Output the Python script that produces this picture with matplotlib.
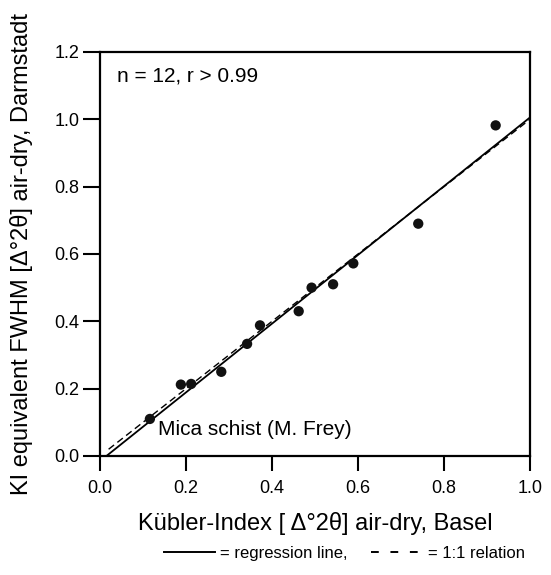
import matplotlib.pyplot as plt
from matplotlib.lines import Line2D

plt.rcParams['font.family'] = ['Liberation Sans', 'DejaVu Sans']

# Kuebler index, Basel vs Darmstadt (air-dry)
ki_basel = [0.116, 0.188, 0.212, 0.282, 0.342, 0.372, 0.462, 0.492, 0.542, 0.589, 0.740, 0.920]
ki_darmstadt = [0.110, 0.212, 0.214, 0.250, 0.333, 0.388, 0.430, 0.500, 0.510, 0.572, 0.690, 0.982]

# regression line
reg_x = [0.015, 1.0]
reg_intercept = -0.0153
reg_slope = 1.021
reg_y = [reg_intercept + reg_slope * v for v in reg_x]

one_x = [0.02, 1.0]
one_y = [0.02, 1.0]

fig = plt.figure(figsize=(5.51, 5.75), dpi=100)
ax = fig.add_axes([0.1815, 0.207, 0.7805, 0.7026])

ax.plot(reg_x, reg_y, color="black", lw=1.3, solid_capstyle="butt")
ax.plot(one_x, one_y, color="black", lw=1.0, dashes=(5, 3))
ax.scatter(ki_basel, ki_darmstadt, s=55, color="#111111", zorder=3, edgecolors="none")

ax.set_xlim(0, 1.0)
ax.set_ylim(0, 1.2)
ax.set_xticks([0.0, 0.2, 0.4, 0.6, 0.8, 1.0])
ax.set_yticks([0.0, 0.2, 0.4, 0.6, 0.8, 1.0, 1.2])
ax.set_xticklabels(["0.0", "0.2", "0.4", "0.6", "0.8", "1.0"])
ax.set_yticklabels(["0.0", "0.2", "0.4", "0.6", "0.8", "1.0", "1.2"])
ax.tick_params(axis="y", direction="out", length=12, width=1.5, labelsize=13, pad=3)
ax.tick_params(axis="x", direction="out", length=11, width=1.5, labelsize=13, pad=6)
for s in ax.spines.values():
    s.set_linewidth(1.6)

ax.set_xlabel("Kübler-Index [ Δ°2θ] air-dry, Basel", fontsize=17, labelpad=11)
ax.set_ylabel("KI equivalent FWHM [Δ°2θ] air-dry, Darmstadt", fontsize=17)
ax.yaxis.set_label_coords(-0.155, 0.5)

ax.text(0.04, 1.13, "n = 12, r > 0.99", fontsize=15, va="center")
ax.text(0.135, 0.078, "Mica schist (M. Frey)", fontsize=15, va="center")

handles = [Line2D([], [], color="black", lw=1.4),
           Line2D([], [], color="black", lw=1.4, dashes=(4, 6))]
fig.legend(handles, ["= regression line,", "= 1:1 relation"], loc="center",
           bbox_to_anchor=(0.625, 0.038), ncol=2, frameon=False, fontsize=12,
           handlelength=3.1, handletextpad=0.3, columnspacing=1.4)

fig.savefig("out.png", dpi=100)
